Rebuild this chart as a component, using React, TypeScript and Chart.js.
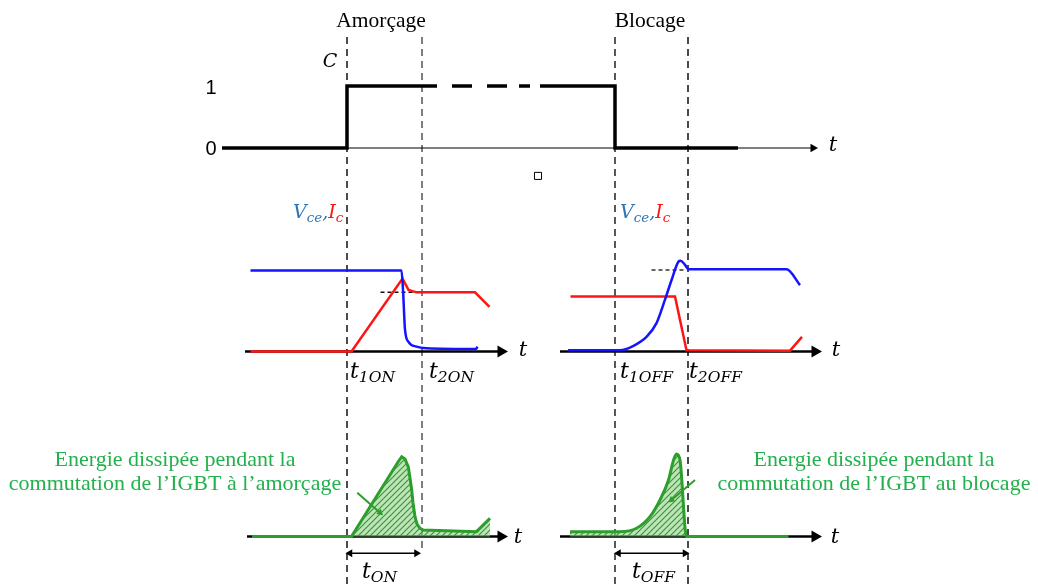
import React, { useEffect, useRef } from 'react';
import Chart from 'chart.js/auto';

const W = 1038;
const H = 586;

// ---- time axis (arbitrary ns) ----
const T_1ON = 0;
const T_2ON = 15;
const T_1OFF = 53.6;
const T_2OFF = 68.2;

// ---- command signal C ----
const cmdT = [-25, 0, 0, 18, 18.5, 21, 25, 26, 28, 32, 33, 34.4, 36.6, 37.5, 38.6, 53.6, 53.6, 78.2];
const cmdV = [0, 0, 1, 1, null, 1, 1, null, 1, 1, null, 1, 1, null, 1, 1, 0, 0];

// ---- turn-on waveforms (Vce in %, Ic in %) ----
const vceOnT = [-19.3, 10.9, 11.2, 11.6, 12.3, 13.9, 15.9, 25.8, 26.1];
const vceOnV = [100, 100, 76, 27, 12, 6, 4, 3, 6];
const icOnT = [-19.3, 0.9, 11.1, 12.3, 13.9, 25.6, 28.5];
const icOnV = [0, 0, 90, 76, 73, 73, 55];
const refOnT = [6.7, 14.6];
const refOnV = [73, 73];

// ---- turn-off waveforms ----
const vceOffT = [44.2, 54.6, 57.3, 59.9, 61.9, 63.6, 64.9, 66.3, 66.7, 67.6, 68.3, 87.9, 90.6];
const vceOffV = [1.5, 1.5, 7, 18, 35, 64, 88, 111, 112, 107, 101.5, 101.5, 82];
const icOffT = [44.7, 65.6, 67.9, 88.6, 91];
const icOffV = [68, 68, 1.5, 1, 18];
const refOffT = [60.9, 67.9];
const refOffV = [100.6, 100.6];

// ---- dissipated energy (power curves) ----
const eOnT = [-19, 0.9, 10.2, 10.94, 11.6, 12.26, 12.6, 12.94, 13.2, 13.6, 14, 14.6, 15.26, 25.9, 28.6];
const eOnV = [0, 0, 89.8, 96.1, 93.4, 83.7, 70.5, 56, 40.4, 23.9, 15, 9.9, 7.8, 5.8, 21.9];
const eOffT = [44.6, 54.6, 57.9, 60.6, 62.6, 64.3, 65.3, 65.9, 66.6, 67.9, 88.3];
const eOffV = [5.8, 5.8, 9.9, 23.9, 44, 68, 92, 99.4, 92, 0, 0];

// ---- layout of the scales: baseline pixel & pixels per unit ----
const X_ORIGIN = 347;
const X_PX = 5;
const AXES: Record<string, { base: number; k: number }> = {
  yCmd: { base: 148, k: 62 },
  yW: { base: 351.5, k: 0.81 },
  yE: { base: 536.5, k: 0.83 },
};

const SERIF = "'Liberation Serif', 'Times New Roman', serif";
const MATH = "'DejaVu Serif', serif";
const SANS = "'Liberation Sans', Arial, sans-serif";
const BLUE = '#1414ff';
const RED = '#ff1414';
const GREEN = '#2c9e2c';
const GREEN_TXT = '#22b14c';
const LBL_BLUE = '#2e75b6';

type Part = { s: string; font: string; color: string; dy?: number };
type Label = { axis: string; t: number; v: number; align: 'left' | 'center'; parts: Part[] };

const plain = (s: string, font: string, color = '#000'): Part[] => [{ s, font, color }];
const sub = (main: string, subs: string, size = 22, subSize = 15.5, color = '#000'): Part[] => [
  { s: main, font: `italic ${size}px ${MATH}`, color },
  { s: subs, font: `italic ${subSize}px ${MATH}`, color, dy: 4 },
];
const vceIc = (): Part[] => [
  { s: 'V', font: `italic 19px ${MATH}`, color: LBL_BLUE },
  { s: 'ce', font: `italic 13.5px ${MATH}`, color: LBL_BLUE, dy: 4 },
  { s: ',', font: `italic 19px ${MATH}`, color: LBL_BLUE },
  { s: 'I', font: `italic 19px ${MATH}`, color: RED },
  { s: 'c', font: `italic 13.5px ${MATH}`, color: RED, dy: 4 },
];

const LABELS: Label[] = [
  { axis: 'yCmd', t: 6.8, v: 1.95, align: 'center', parts: plain('Amorçage', `21.5px ${SERIF}`) },
  { axis: 'yCmd', t: 60.6, v: 1.95, align: 'center', parts: plain('Blocage', `21.5px ${SERIF}`) },
  { axis: 'yCmd', t: -3.4, v: 1.31, align: 'center', parts: plain('C', `italic 19px ${MATH}`) },
  { axis: 'yCmd', t: -27.2, v: 0.87, align: 'center', parts: plain('1', `20px ${SANS}`) },
  { axis: 'yCmd', t: -27.2, v: -0.11, align: 'center', parts: plain('0', `20px ${SANS}`) },
  { axis: 'yCmd', t: 97.2, v: -0.05, align: 'center', parts: plain('t', `italic 21px ${MATH}`) },
  { axis: 'yW', t: -10.8, v: 164.8, align: 'left', parts: vceIc() },
  { axis: 'yW', t: 54.6, v: 164.8, align: 'left', parts: vceIc() },
  { axis: 'yW', t: 35.2, v: -5, align: 'center', parts: plain('t', `italic 21px ${MATH}`) },
  { axis: 'yW', t: 97.8, v: -5, align: 'center', parts: plain('t', `italic 21px ${MATH}`) },
  { axis: 'yW', t: 0.6, v: -32.7, align: 'left', parts: sub('t', '1ON') },
  { axis: 'yW', t: 16.4, v: -32.7, align: 'left', parts: sub('t', '2ON') },
  { axis: 'yW', t: 54.6, v: -32.7, align: 'left', parts: sub('t', '1OFF') },
  { axis: 'yW', t: 68.4, v: -32.7, align: 'left', parts: sub('t', '2OFF') },
  { axis: 'yE', t: 34.2, v: -8, align: 'center', parts: plain('t', `italic 21px ${MATH}`) },
  { axis: 'yE', t: 97.6, v: -8, align: 'center', parts: plain('t', `italic 21px ${MATH}`) },
  { axis: 'yE', t: 3, v: -50, align: 'left', parts: sub('t', 'ON') },
  { axis: 'yE', t: 57, v: -50, align: 'left', parts: sub('t', 'OFF') },
  { axis: 'yE', t: -34.4, v: 85, align: 'center', parts: plain('Energie dissipée pendant la', `22px ${SERIF}`, GREEN_TXT) },
  { axis: 'yE', t: -34.4, v: 56, align: 'center', parts: plain('commutation de l\u2019IGBT à l\u2019amorçage', `22px ${SERIF}`, GREEN_TXT) },
  { axis: 'yE', t: 105.4, v: 85, align: 'center', parts: plain('Energie dissipée pendant la', `22px ${SERIF}`, GREEN_TXT) },
  { axis: 'yE', t: 105.4, v: 56, align: 'center', parts: plain('commutation de l\u2019IGBT au blocage', `22px ${SERIF}`, GREEN_TXT) },
];

const labelPlugin = {
  id: 'diagramLabels',
  afterDatasetsDraw(chart: any) {
    const ctx = chart.ctx;
    const sx = chart.scales.x;
    ctx.save();
    ctx.textBaseline = 'alphabetic';
    ctx.textAlign = 'left';
    for (const lab of LABELS) {
      const sy = chart.scales[lab.axis];
      let x = sx.getPixelForValue(lab.t);
      const y = sy.getPixelForValue(lab.v);
      let total = 0;
      for (const p of lab.parts) {
        ctx.font = p.font;
        total += ctx.measureText(p.s).width;
      }
      if (lab.align === 'center') x -= total / 2;
      for (const p of lab.parts) {
        ctx.font = p.font;
        ctx.fillStyle = p.color;
        ctx.fillText(p.s, x, y + (p.dy || 0));
        x += ctx.measureText(p.s).width;
      }
    }
    ctx.restore();
  },
};

const pts = (ts: number[], vs: (number | null)[]) => ts.map((t, i) => ({ x: t, y: vs[i] }));

function makeHatch(ctx: CanvasRenderingContext2D) {
  const c = document.createElement('canvas');
  c.width = 6;
  c.height = 6;
  const g = c.getContext('2d')!;
  g.fillStyle = 'rgba(150,210,140,0.6)';
  g.fillRect(0, 0, 6, 6);
  g.strokeStyle = '#359a35';
  g.lineWidth = 1.2;
  g.beginPath();
  g.moveTo(0, 6); g.lineTo(6, 0);
  g.moveTo(-3, 3); g.lineTo(3, -3);
  g.moveTo(3, 9); g.lineTo(9, 3);
  g.stroke();
  return ctx.createPattern(c, 'repeat');
}

export default function App() {
  const ref = useRef<HTMLCanvasElement | null>(null);

  useEffect(() => {
    const canvas = ref.current!;
    const ctx = canvas.getContext('2d')!;
    const hatch = makeHatch(ctx);

    const line = (data: any[], axis: string, color: string, width: number, extra: any = {}) => ({
      type: 'line',
      data,
      yAxisID: axis,
      xAxisID: 'x',
      borderColor: color,
      backgroundColor: color,
      borderWidth: width,
      pointRadius: 0,
      tension: 0,
      fill: false,
      spanGaps: false,
      ...extra,
    });

    const guide = (t: number, vTop: number, vBot: number, color: string) =>
      line(pts([t, t], [vTop, vBot]), 'yCmd', color, 1.5, { borderDash: [7, 5], order: 20 });

    const arrowAxis = (t0: number, t1: number, axis: string, width: number, r: number) =>
      line(pts([t0, t1], [0, 0]), axis, '#000', width, {
        pointRadius: [0, r],
        pointStyle: 'triangle',
        pointRotation: 90,
        pointBackgroundColor: '#000',
        pointBorderWidth: 0,
        order: 10,
      });

    const bracket = (t0: number, t1: number) =>
      line(pts([t0, t1], [-20.2, -20.2]), 'yE', '#000', 1.5, {
        pointRadius: [4.5, 4.5],
        pointStyle: 'triangle',
        pointRotation: [270, 90],
        pointBackgroundColor: '#000',
        pointBorderWidth: 0,
        order: 3,
      });

    const pointer = (ts: number[], vs: number[], rot: number) =>
      line(pts(ts, vs), 'yE', GREEN, 2, {
        pointRadius: [0, 4],
        pointStyle: 'triangle',
        pointRotation: rot,
        pointBackgroundColor: GREEN,
        pointBorderWidth: 0,
        order: 1,
      });

    const scales: any = {
      x: {
        type: 'linear',
        display: false,
        min: -X_ORIGIN / X_PX,
        max: (W - X_ORIGIN) / X_PX,
      },
    };
    for (const id of Object.keys(AXES)) {
      const a = AXES[id];
      scales[id] = {
        type: 'linear',
        display: false,
        min: -(H - a.base) / a.k,
        max: a.base / a.k,
      };
    }

    const chart = new Chart(ctx, {
      type: 'line',
      data: {
        datasets: [
          // dashed time markers
          guide(T_1ON, 1.79, -7.2, '#111'),
          guide(T_2ON, 1.79, -6.48, '#555'),
          guide(T_1OFF, 1.79, -7.2, '#222'),
          guide(T_2OFF, 1.79, -7.2, '#111'),
          // axes
          arrowAxis(-25, 93.2, 'yCmd', 1.2, 5),
          arrowAxis(-20.4, 30.8, 'yW', 2.5, 7),
          arrowAxis(42.6, 93.6, 'yW', 2.5, 7),
          arrowAxis(-20, 30.8, 'yE', 2.5, 7),
          arrowAxis(42.6, 93.6, 'yE', 2.5, 7),
          // command
          line(pts(cmdT, cmdV), 'yCmd', '#000', 3.5, { order: 2 }),
          // small marker
          line([{ x: 38.2, y: -0.45 }], 'yCmd', '#000', 1, {
            showLine: false,
            pointRadius: 5,
            pointStyle: 'rect',
            pointBackgroundColor: '#fff',
            pointBorderColor: '#000',
            pointBorderWidth: 1,
            order: 2,
          }),
          // turn-on
          line(pts(icOnT, icOnV), 'yW', RED, 2.5, { order: 3 }),
          line(pts(vceOnT, vceOnV), 'yW', BLUE, 2.5, { order: 2, cubicInterpolationMode: 'monotone' }),
          line(pts(refOnT, refOnV), 'yW', '#111', 1.5, { borderDash: [4, 3], order: 4 }),
          // turn-off
          line(pts(icOffT, icOffV), 'yW', RED, 2.5, { order: 3 }),
          line(pts(vceOffT, vceOffV), 'yW', BLUE, 2.5, { order: 2, cubicInterpolationMode: 'monotone' }),
          line(pts(refOffT, refOffV), 'yW', '#333', 1.5, { borderDash: [4, 3], order: 4 }),
          // energies
          line(pts(eOnT, eOnV), 'yE', GREEN, 3, {
            fill: 'origin',
            backgroundColor: hatch,
            order: 5,
          }),
          line(pts(eOffT, eOffV), 'yE', GREEN, 3, {
            fill: 'origin',
            backgroundColor: hatch,
            cubicInterpolationMode: 'monotone',
            order: 5,
          }),
          pointer([2.06, 6.6], [52.8, 28.7], 131),
          pointer([69.6, 64.9], [68.1, 44], 229),
          bracket(0.6, 13.9),
          bracket(54.3, 67.6),
        ] as any,
      },
      options: {
        animation: false,
        responsive: false,
        maintainAspectRatio: false,
        devicePixelRatio: 1,
        layout: { padding: 0, autoPadding: false },
        plugins: { legend: { display: false }, tooltip: { enabled: false } },
        events: [],
        scales,
      },
      plugins: [labelPlugin],
    } as any);

    return () => chart.destroy();
  }, []);

  return (
    <div style={{ position: 'fixed', left: 0, top: 0, width: W, height: H, background: '#fff' }}>
      <canvas ref={ref} width={W} height={H} style={{ display: 'block', width: W, height: H }} />
    </div>
  );
}
